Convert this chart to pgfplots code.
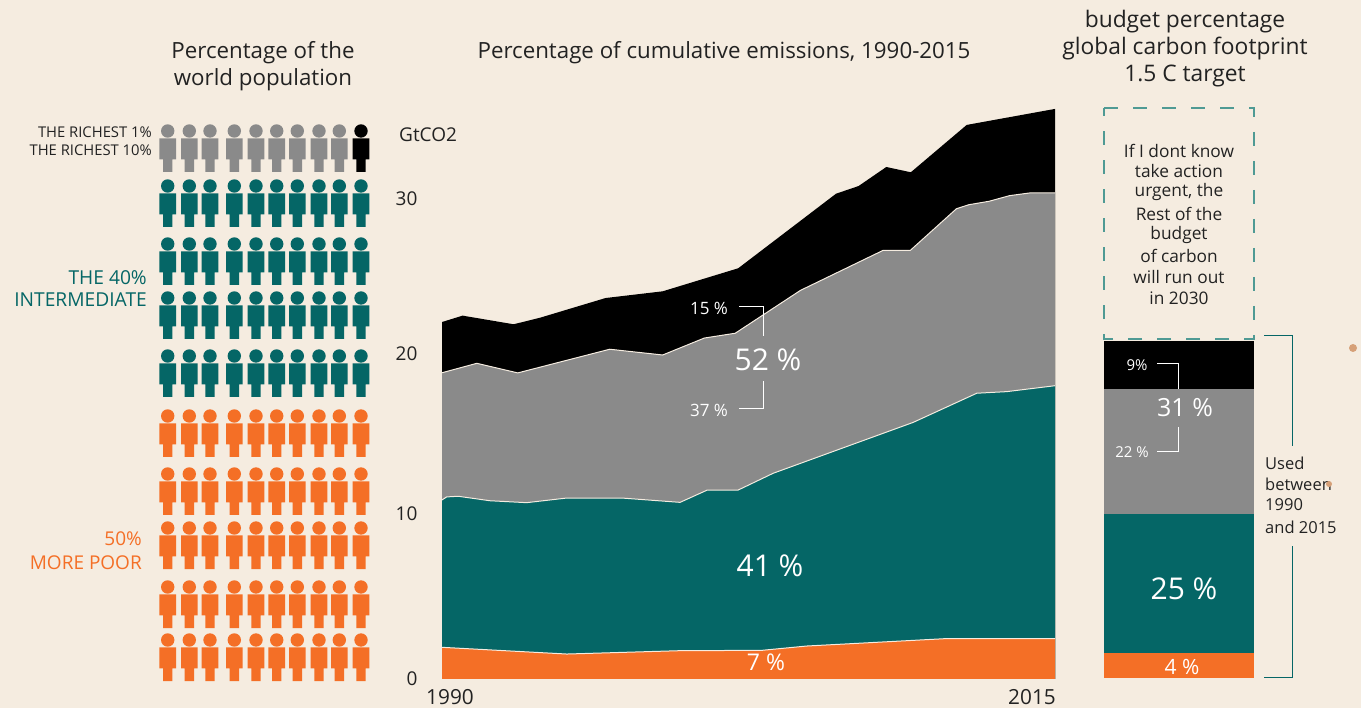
\documentclass[border=0pt]{standalone}
\usepackage{pgfplots}
\pgfplotsset{compat=1.18}
\usepackage{pgfplotstable}
\usepackage{fontspec}
\setmainfont{Open Sans}
\definecolor{bg}{HTML}{F5ECE0}
\definecolor{tealc}{HTML}{056666}
\definecolor{orangec}{HTML}{F46F26}
\definecolor{grayc}{HTML}{8A8A8A}
\definecolor{ink}{HTML}{222222}
\definecolor{dashc}{HTML}{4F9A94}
\definecolor{dotc}{HTML}{D6A078}
\newcommand\fs[1]{\fontsize{#1}{#1}\selectfont}
\pgfdeclareplotmark{person}{%
  \pgfpathcircle{\pgfpointorigin}{6.7pt}\pgfusepathqfill
  \pgfsetcornersarced{\pgfpoint{4.5pt}{4.5pt}}%
  \pgfpathmoveto{\pgfpoint{0pt}{-7.3pt}}%
  \pgfpathlineto{\pgfpoint{8.3pt}{-7.3pt}}%
  \pgfsetcornersarced{\pgfpointorigin}%
  \pgfpathlineto{\pgfpoint{8.3pt}{-28.3pt}}%
  \pgfpathlineto{\pgfpoint{4.7pt}{-28.3pt}}%
  \pgfpathlineto{\pgfpoint{4.7pt}{-41pt}}%
  \pgfpathlineto{\pgfpoint{-4.7pt}{-41pt}}%
  \pgfpathlineto{\pgfpoint{-4.7pt}{-28.3pt}}%
  \pgfpathlineto{\pgfpoint{-8.3pt}{-28.3pt}}%
  \pgfsetcornersarced{\pgfpoint{4.5pt}{4.5pt}}%
  \pgfpathlineto{\pgfpoint{-8.3pt}{-7.3pt}}%
  \pgfpathlineto{\pgfpoint{0pt}{-7.3pt}}%
  \pgfsetcornersarced{\pgfpointorigin}%
  \pgfpathclose\pgfusepathqfill
}
\pgfplotstableread{
x y
1990 22.31
1990.84 22.71
1992.92 22.17
1994.00 22.58
1996.67 23.81
1999.00 24.23
2002.08 25.67
2006.07 30.33
2006.99 30.81
2008.12 32.00
2009.12 31.67
2011.40 34.63
2015 35.63
}\blacktop
\pgfplotstableread{
x y
1990 19.14
1991.42 19.73
1993.09 19.13
1996.84 20.61
1999.00 20.25
2000.70 21.31
2001.96 21.61
2004.62 24.29
2007.99 26.79
2009.10 26.79
2010.98 29.39
2011.48 29.64
2012.32 29.86
2013.15 30.21
2013.98 30.38
2015 30.39
}\graytop
\pgfplotstableread{
x y
1990 11.19
1990.19 11.38
1990.66 11.42
1991.96 11.14
1993.45 11.02
1995.09 11.31
1997.33 11.31
1999.71 11.04
2000.82 11.81
2002.08 11.81
2003.51 12.86
2009.22 16.04
2011.81 17.86
2013.03 17.96
2015 18.33
}\tealtop
\pgfplotstableread{
x y
1990 1.98
1995.09 1.56
1999.71 1.77
2003.04 1.79
2004.87 2.06
2010.51 2.52
2015 2.52
}\orangetop
\begin{document}
\begin{tikzpicture}[x=1pt,y=1pt]
\path[use as bounding box,fill=bg] (0,0) rectangle (1361,708);
% area chart
\begin{axis}[
  at={(442pt,29pt)},anchor=south west,scale only axis,
  width=613pt,height=576pt,
  xmin=1990,xmax=2015,ymin=0,ymax=36,
  axis line style={draw=none},tick style={draw=none},major tick length=0pt,
  axis x line*=bottom,axis y line*=left,
  /pgf/number format/1000 sep={},
  /pgf/number format/assume math mode=true,
  tick label style={font=\fs{19},text=ink},
  xtick={1990},extra x ticks={2015},
  xticklabel style={font=\fs{20.8},xshift=8pt,yshift=-7pt},
  extra x tick style={xticklabel style={xshift=-31pt}},
  ytick={0,30},extra y ticks={10,20},
  yticklabel style={xshift=-21pt},
  extra y tick style={yticklabel style={yshift=5.5pt}},
]
\addplot[fill=black,draw=none] table[x=x,y=y]{\blacktop}\closedcycle;
\addplot[fill=grayc,draw=none] table[x=x,y=y]{\graytop}\closedcycle;
\addplot[bg,line width=1pt] table[x=x,y=y]{\graytop};
\addplot[fill=tealc,draw=none] table[x=x,y=y]{\tealtop}\closedcycle;
\addplot[bg,line width=1pt] table[x=x,y=y]{\tealtop};
\addplot[fill=orangec,draw=none] table[x=x,y=y]{\orangetop}\closedcycle;
\addplot[bg,line width=1pt] table[x=x,y=y]{\orangetop};
\end{axis}
% budget bar
\begin{axis}[
  at={(1104pt,30pt)},anchor=south west,scale only axis,
  width=150pt,height=337pt,hide axis,
  xmin=-0.5,xmax=0.5,ymin=0,ymax=60,
  ybar stacked,bar width=150pt,
]
\addplot[fill=orangec,draw=none] coordinates {(0,4.45)};
\addplot[fill=tealc,draw=none] coordinates {(0,24.75)};
\addplot[fill=grayc,draw=none] coordinates {(0,22.25)};
\addplot[fill=black,draw=none] coordinates {(0,8.55)};
\end{axis}
% pictogram and annotations, in reference pixel coordinates
\begin{axis}[
  at={(0pt,0pt)},anchor=south west,scale only axis,
  width=1361pt,height=708pt,hide axis,clip=false,
  xmin=0,xmax=1361,ymin=0,ymax=708,y dir=reverse,
]
\addplot[only marks,mark=person,mark options={fill=grayc,draw=none}] coordinates {
(167.7,131)(189.3,131)(210,131)(234.3,131)(256,131)(276.7,131)(297.3,131)(319,131)(339.3,131)};
\addplot[only marks,mark=person,mark options={fill=black,draw=none}] coordinates {(361,131)};
\addplot[only marks,mark=person,mark options={fill=tealc,draw=none}] coordinates {
(167.7,186)(189.3,186)(210,186)(234.3,186)(256,186)(276.7,186)(297.3,186)(319,186)(339.3,186)(361,186)
(167.7,244)(189.3,244)(210,244)(234.3,244)(256,244)(276.7,244)(297.3,244)(319,244)(339.3,244)(361,244)
(167.7,298)(189.3,298)(210,298)(234.3,298)(256,298)(276.7,298)(297.3,298)(319,298)(339.3,298)(361,298)
(167.7,356)(189.3,356)(210,356)(234.3,356)(256,356)(276.7,356)(297.3,356)(319,356)(339.3,356)(361,356)};
\addplot[only marks,mark=person,mark options={fill=orangec,draw=none}] coordinates {
(167.7,416)(189.3,416)(210,416)(234.3,416)(256,416)(276.7,416)(297.3,416)(319,416)(339.3,416)(361,416)
(167.7,474)(189.3,474)(210,474)(234.3,474)(256,474)(276.7,474)(297.3,474)(319,474)(339.3,474)(361,474)
(167.7,528)(189.3,528)(210,528)(234.3,528)(256,528)(276.7,528)(297.3,528)(319,528)(339.3,528)(361,528)
(167.7,587)(189.3,587)(210,587)(234.3,587)(256,587)(276.7,587)(297.3,587)(319,587)(339.3,587)(361,587)
(167.7,640)(189.3,640)(210,640)(234.3,640)(256,640)(276.7,640)(297.3,640)(319,640)(339.3,640)(361,640)};
% titles
\tikzset{ti/.style={font=\fs{22.3},text=ink,inner sep=0pt,anchor=center},
         tr/.style={font=\fs{22.8},text=ink,inner sep=0pt,anchor=center}}
\node[ti] at (263,52.5) {Percentage of the};
\node[ti] at (263,79.5) {world population};
\node[ti] at (724,52.5) {Percentage of cumulative emissions, 1990-2015};
\node[tr] at (1185,22) {budget percentage};
\node[tr] at (1185,49) {global carbon footprint};
\node[tr] at (1185,76) {1.5 C target};
\node[font=\fs{19},text=ink,inner sep=0pt,anchor=west] at (399,135) {GtCO2};
% group labels
\tikzset{gl/.style={font=\fs{14.8},text=ink,inner sep=0pt,anchor=east}}
\node[gl] at (152,132.5) {THE RICHEST 1\%};
\node[gl] at (152,150.5) {THE RICHEST 10\%};
\tikzset{tl/.style={font=\fs{19.2},text=tealc,inner sep=0pt,anchor=east}}
\node[tl] at (147,278) {THE 40\%};
\node[tl] at (147,300) {INTERMEDIATE};
\tikzset{ol/.style={font=\fs{19},text=orangec,inner sep=0pt,anchor=east}}
\node[ol] at (142,539) {50\%};
\node[ol] at (142,563) {MORE POOR};
% percent labels on area
\tikzset{pb/.style={font=\fs{30},text=white,inner sep=0pt,anchor=center},
         ps/.style={font=\fs{17},text=white,inner sep=0pt,anchor=center}}
\node[ps] at (709,308) {15 \%};
\node[ps] at (709,410) {37 \%};
\node[pb] at (768,360) {52 \%};
\node[pb] at (770,566) {41 \%};
\node[font=\fs{23},text=white,inner sep=0pt] at (766,662) {7 \%};
\draw[white,line width=1pt] (739,307)--(763,307)--(763,336);
\draw[white,line width=1pt] (763,381)--(763,409)--(739,409);
% percent labels on bar
\node[font=\fs{15},text=white,inner sep=0pt] at (1137,365) {9\%};
\node[font=\fs{15},text=white,inner sep=0pt] at (1132,452) {22 \%};
\node[font=\fs{25},text=white,inner sep=0pt] at (1185,408) {31 \%};
\node[pb] at (1184,589) {25 \%};
\node[font=\fs{21},text=white,inner sep=0pt] at (1182,667) {4 \%};
\draw[white,line width=1pt] (1157,363.7)--(1178,363.7)--(1178,389);
\draw[white,line width=1pt] (1178,427)--(1178,452)--(1157,452);
% dashed box
\draw[dashc,line width=1.5pt,dash pattern=on 14pt off 15pt] (1104,108)--(1254,108)--(1254,339)--(1104,339)--cycle;
\tikzset{bt/.style={font=\fs{17.3},text=ink,inner sep=0pt,anchor=center}}
\node[bt] at (1179,150.5) {If I dont know};
\node[bt] at (1179,171.5) {take action};
\node[bt] at (1179,192.5) {urgent, the};
\node[bt] at (1179,213.5) {Rest of the};
\node[bt] at (1179,235) {budget};
\node[bt] at (1179,256) {of carbon};
\node[bt] at (1179,277) {will run out};
\node[bt] at (1179,298) {in 2030};
% teal bracket
\draw[tealc,line width=1pt] (1264,336)--(1292,336)--(1292,446);
\draw[tealc,line width=1pt] (1292,546)--(1292,677)--(1264,677);
\tikzset{ut/.style={font=\fs{16.5},text=ink,inner sep=0pt,anchor=west}}
\node[ut] at (1265,463) {Used};
\node[ut] at (1265,484) {between};
\node[ut] at (1265,505) {1990};
\node[ut] at (1265,527) {and 2015};
\fill[dotc] (1353,348) circle[radius=4pt];
\fill[dotc] (1329,484) circle[radius=3pt];
\end{axis}
\end{tikzpicture}
\end{document}
